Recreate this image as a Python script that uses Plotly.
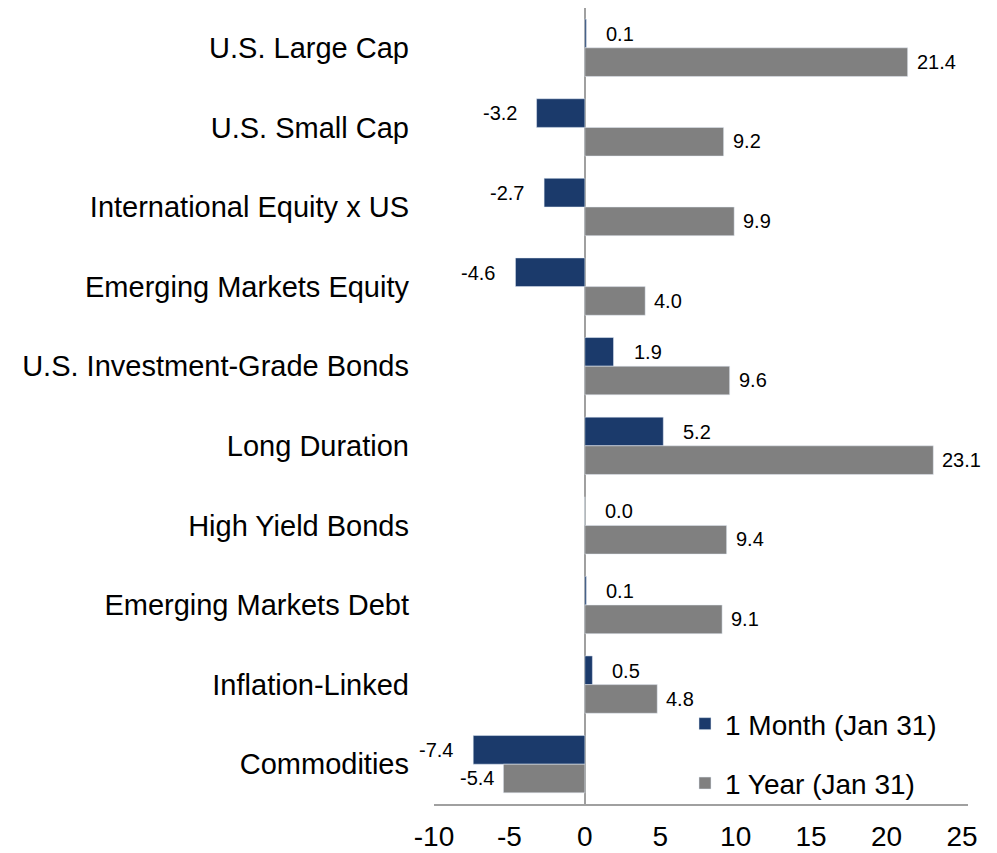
import plotly.graph_objects as go

categories = ["U.S. Large Cap", "U.S. Small Cap", "International Equity x US",
              "Emerging Markets Equity", "U.S. Investment-Grade Bonds", "Long Duration",
              "High Yield Bonds", "Emerging Markets Debt", "Inflation-Linked", "Commodities"]
one_month = [0.1, -3.2, -2.7, -4.6, 1.9, 5.2, 0.0, 0.1, 0.5, -7.4]
one_year = [21.4, 9.2, 9.9, 4.0, 9.6, 23.1, 9.4, 9.1, 4.8, -5.4]
series_names = ["1 Month (Jan 31)", "1 Year (Jan 31)"]
x_ticks = [-10, -5, 0, 5, 10, 15, 20, 25]
x_tick_labels = ["-10", "-5", "0", "5", "10", "15", "20", "25"]

BLUE = "#1b3a6b"
GRAY = "#808080"
FONT = "Liberation Sans, Arial, sans-serif"

fig = go.Figure()
fig.add_trace(go.Bar(y=categories, x=one_month, orientation="h", name=series_names[0],
                     marker_color=BLUE, legendgroup="a"))
fig.add_trace(go.Bar(y=categories, x=one_year, orientation="h", name=series_names[1],
                     marker_color=GRAY, legendgroup="b"))

annotations = []
for vals, yshift, gap in [(one_month, 14, 18), (one_year, -14, 7)]:
    for cat, v in zip(categories, vals):
        neg = v < 0
        annotations.append(dict(
            x=v, y=cat, xref="x", yref="y", text=f"{v:.1f}", showarrow=False,
            xanchor="right" if neg else "left", xshift=-gap if neg else gap,
            yshift=yshift, font=dict(family=FONT, size=20, color="#000000")))

fig.update_layout(
    width=997, height=853,
    margin=dict(l=426, r=37, t=0, b=57),
    paper_bgcolor="white", plot_bgcolor="white",
    barmode="group", bargap=0.28, bargroupgap=0,
    font=dict(family=FONT, color="#000000"),
    annotations=annotations,
    legend=dict(x=0.47, y=0.132, xanchor="left", yanchor="top",
                bgcolor="rgba(0,0,0,0)", font=dict(family=FONT, size=28),
                traceorder="grouped", tracegroupgap=20),
    xaxis=dict(range=[-10, 25.4], tickvals=x_ticks, ticktext=x_tick_labels, showgrid=False,
               zeroline=True, zerolinecolor="#a0a0a0", zerolinewidth=1.5,
               showline=True, linecolor="#a0a0a0", linewidth=1.5,
               tickfont=dict(family=FONT, size=28), ticklabelstandoff=7, ticks=""),
    yaxis=dict(autorange="reversed", showgrid=False, showline=False, zeroline=False,
               tickfont=dict(family=FONT, size=29), ticklabelstandoff=24, ticks=""),
)

fig.write_html("out.html")
